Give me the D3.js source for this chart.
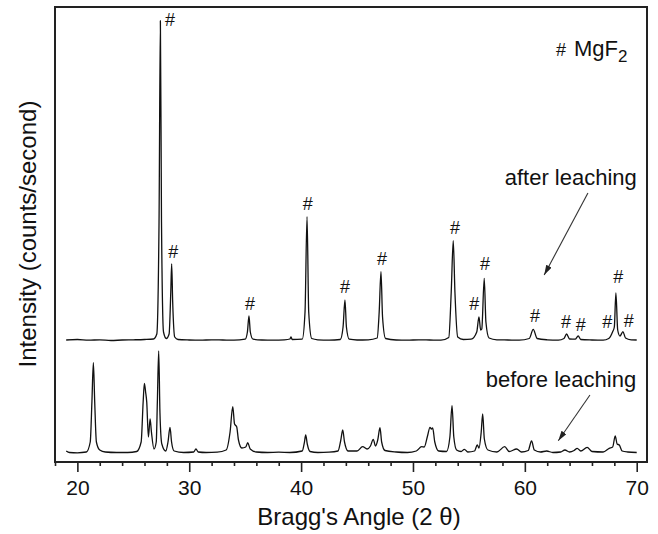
<!DOCTYPE html>
<html>
<head>
<meta charset="utf-8">
<script src="https://cdn.jsdelivr.net/npm/d3@7"></script>
<style>
body { margin: 0; background: #fff; }
svg { display: block; font-family: Arial, "Liberation Sans", sans-serif; fill: #111; }
.trace { fill: none; stroke: #111; stroke-width: 1.3; stroke-linejoin: round; }
.frame { fill: none; stroke: #222; stroke-width: 2; }
.axis .tick line { stroke: #222; stroke-width: 1.6; }
.axis text { font-size: 21px; fill: #111; font-family: Arial, "Liberation Sans", sans-serif; }
.title { font-size: 24px; text-anchor: middle; }
.mark { font-size: 18px; text-anchor: middle; dominant-baseline: central; }
.note { font-size: 22px; }
.pointer { stroke: #333; stroke-width: 1.1; }
</style>
</head>
<body>
<svg class="chart"></svg>
<script>
// 2theta (deg), intensity (a.u., as plotted)
var afterLeaching = [
    [19.0,1220],[20.0,1225],[21.0,1218],[22.0,1222],[23.0,1215],[24.0,1220],[25.0,1222],[26.0,1225],
    [26.8,1230],[27.1,1280],[27.3,2400],[27.42,4413],[27.52,2400],[27.7,1300],[27.95,1235],
    [28.2,1280],[28.35,1700],[28.43,1980],[28.52,1600],[28.7,1250],[29.0,1225],[30,1220],[31,1218],
    [32,1222],[33,1220],[34,1218],[35.0,1228],[35.2,1300],[35.34,1460],[35.46,1300],[35.7,1228],
    [36.5,1220],[37.5,1218],[38.5,1222],[39.0,1230],[39.1,1250],[39.2,1225],[40.1,1228],
    [40.35,1500],[40.53,2453],[40.68,1500],[40.95,1235],[41.5,1222],[42.5,1218],[43.5,1225],
    [43.75,1350],[43.92,1620],[44.05,1350],[44.3,1228],[45,1220],[46,1222],[46.8,1240],
    [46.98,1500],[47.14,1903],[47.28,1450],[47.55,1235],[48.5,1220],[49.5,1218],[50.5,1222],
    [51.5,1220],[52.5,1218],[53.2,1245],[53.42,1700],[53.6,2213],[53.75,1700],[54.0,1250],
    [54.5,1225],[55.2,1228],[55.7,1300],[55.9,1450],[56.05,1320],[56.15,1330],[56.37,1837],
    [56.52,1400],[56.8,1240],[57.5,1222],[58.5,1220],[59.5,1218],[60.4,1235],[60.75,1327],
    [61.1,1235],[62,1222],[63,1218],[63.5,1235],[63.73,1280],[64.0,1230],[64.5,1228],[64.77,1260],
    [65.0,1225],[66,1220],[67,1218],[67.5,1235],[67.85,1303],[68.0,1350],[68.14,1690],[68.3,1320],
    [68.5,1260],[68.77,1303],[69.0,1240],[69.5,1222],[70.0,1220]
];

var beforeLeaching = [
    [19.0,110],[19.3,95],[20,92],[20.8,100],[21.15,200],[21.3,600],[21.43,993],[21.55,600],
    [21.7,200],[22.0,120],[22.5,100],[23.5,95],[24.5,95],[25.3,105],[25.7,200],[25.88,600],
    [25.99,787],[26.1,700],[26.2,600],[26.35,250],[26.5,430],[26.62,300],[26.85,130],[27.05,200],
    [27.15,600],[27.27,1110],[27.38,500],[27.55,180],[27.9,110],[28.1,200],[28.28,347],[28.42,200],
    [28.65,110],[29.5,95],[30.4,100],[30.6,130],[30.8,100],[31.5,95],[32.5,98],[33.3,120],
    [33.65,300],[33.89,553],[34.05,380],[34.24,353],[34.4,220],[34.7,140],[35.05,150],[35.23,193],
    [35.45,130],[36,100],[37,95],[38,98],[39,95],[40.1,110],[40.3,200],[40.41,270],[40.55,180],
    [40.8,105],[41.5,95],[42.5,98],[43.3,110],[43.55,220],[43.72,320],[43.88,200],[44.2,110],
    [45,110],[45.5,153],[45.9,130],[46.2,160],[46.45,227],[46.65,160],[46.85,220],[47.05,343],
    [47.2,200],[47.5,115],[48.5,100],[49.5,95],[50.3,110],[50.78,153],[51.0,150],[51.3,260],
    [51.52,347],[51.65,330],[51.76,340],[51.95,200],[52.3,110],[53.0,105],[53.3,250],[53.49,563],
    [53.65,250],[53.9,120],[54.3,105],[54.6,127],[54.9,100],[55.5,110],[55.75,170],[55.9,140],
    [56.1,300],[56.23,480],[56.38,230],[56.7,120],[57.5,100],[58.2,153],[58.6,105],[59.27,130],
    [59.7,100],[60.3,115],[60.6,210],[60.85,120],[61.4,100],[61.95,110],[62.5,95],[63.2,100],
    [63.58,120],[64.0,100],[64.4,115],[64.68,137],[65.0,110],[65.57,147],[66,105],[67,100],
    [67.54,137],[67.85,150],[68.08,260],[68.25,180],[68.44,170],[68.7,110],[69.2,100],[70,95]
];

// where the MgF2 "#" signs sit
var mgf2Marks = [
    [28.28,4420],[28.58,2103],[35.43,1580],[40.59,2580],[43.92,1753],[47.23,2027],[53.76,2337],
    [55.48,1580],[56.43,1980],[60.9,1460],[63.67,1397],[64.99,1370],[67.36,1397],[68.35,1847],
    [69.3,1413]
];

var majorTicks = [20, 30, 40, 50, 60, 70];
var minorTicks = [18, 22, 24, 26, 28, 32, 34, 36, 38, 42, 44, 46, 48, 52, 54, 56, 58, 62, 64, 66, 68];

var xrd = function() {
    var width = 658, height = 534;
    var left = 55, right = 647, top = 7, bottom = 462;

    var x = d3.scaleLinear().domain([18, 70.92]).range([left, right]);
    var y = d3.scaleLinear().domain([0, 4550]).range([bottom, top]);

    return {
        drawChart: function() {
            var chart = d3.select(".chart")
                .attr("width", width).attr("height", height);

            chart.append("defs")
                .append("marker")
                .attr("id", "head").attr("orient", "auto")
                .attr("markerUnits", "userSpaceOnUse")
                .attr("markerWidth", 10).attr("markerHeight", 6)
                .attr("refX", 10).attr("refY", 3)
                .append("path")
                .attr("d", "M0,0 L10,3 L0,6 Z")
                .attr("fill", "#222");

            return chart;
        },

        drawAxis: function(chart) {
            chart.append("g")
                .attr("class", "axis")
                .attr("transform", "translate(0," + bottom + ")")
                .call(d3.axisBottom(x).tickValues(minorTicks).tickSize(4).tickFormat(""))
                .call(function(g) { g.select(".domain").remove(); });

            chart.append("g")
                .attr("class", "axis")
                .attr("transform", "translate(0," + bottom + ")")
                .call(d3.axisBottom(x).tickValues(majorTicks).tickSize(10).tickPadding(8).tickFormat(d3.format("d")))
                .call(function(g) { g.select(".domain").remove(); });

            chart.append("rect")
                .attr("class", "frame")
                .attr("x", left).attr("y", top)
                .attr("width", right - left).attr("height", bottom - top);

            chart.append("text")
                .attr("class", "title")
                .attr("x", 359).attr("y", 525)
                .text("Bragg's Angle (2 \u03b8)");

            chart.append("text")
                .attr("class", "title")
                .attr("transform", "translate(36," + 234 + ") rotate(-90)")
                .text("Intensity (counts/second)");
        },

        drawTrace: function(chart, data) {
            var line = d3.line()
                .x(function(d) { return x(d[0]); })
                .y(function(d) { return y(d[1]); })
                .curve(d3.curveMonotoneX);

            return chart.append("path")
                .datum(data)
                .attr("class", "trace")
                .attr("d", line);
        },

        drawMarks: function(chart, marks) {
            chart.append("g").selectAll("text")
                .data(marks)
                .enter().append("text")
                .attr("class", "mark")
                .attr("x", function(d) { return x(d[0]); })
                .attr("y", function(d) { return y(d[1]); })
                .text("#");
        },

        drawNotes: function(chart) {
            var legend = chart.append("text").attr("class", "note")
                .attr("x", x(62.78)).attr("y", y(4060));
            legend.append("tspan").attr("font-size", 18).text("#");
            legend.append("tspan").attr("dx", 8).text("MgF");
            legend.append("tspan").attr("font-size", 17).attr("dy", 6).text("2");

            chart.append("text").attr("class", "note")
                .attr("x", x(58.2)).attr("y", y(2770))
                .text("after leaching");
            chart.append("text").attr("class", "note")
                .attr("x", x(56.5)).attr("y", y(753))
                .text("before leaching");

            var pointers = [[65.64, 2690, 61.73, 1870], [65.82, 670, 62.99, 213]];
            chart.append("g").selectAll("line")
                .data(pointers)
                .enter().append("line")
                .attr("class", "pointer")
                .attr("x1", function(d) { return x(d[0]); })
                .attr("y1", function(d) { return y(d[1]); })
                .attr("x2", function(d) { return x(d[2]); })
                .attr("y2", function(d) { return y(d[3]); })
                .attr("marker-end", "url(#head)");
        }
    };
}();

var chart = xrd.drawChart();
xrd.drawTrace(chart, afterLeaching);
xrd.drawTrace(chart, beforeLeaching);
xrd.drawMarks(chart, mgf2Marks);
xrd.drawNotes(chart);
xrd.drawAxis(chart);
</script>
</body>
</html>
